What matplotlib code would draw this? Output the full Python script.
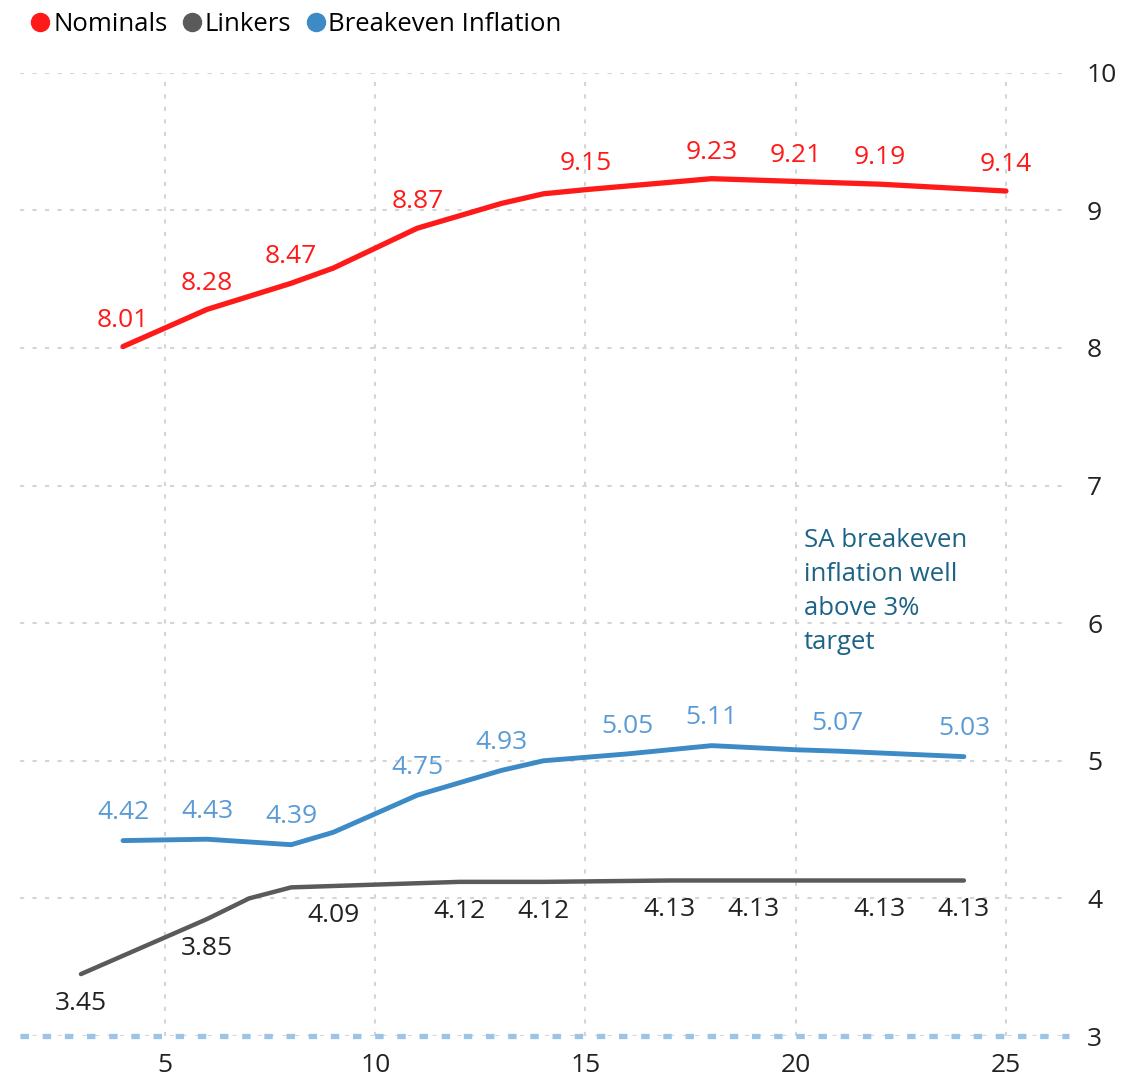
import matplotlib.pyplot as plt
from matplotlib.lines import Line2D

# --- data (maturity in years, yield in %) ---
nom_x = [4, 6, 8, 9, 11, 13, 14, 15, 18, 20, 22, 25]
nom_y = [8.01, 8.28, 8.47, 8.58, 8.87, 9.05, 9.12, 9.15, 9.23, 9.21, 9.19, 9.14]
nom_lab = [True, True, True, False, True, False, False, True, True, True, True, True]

link_x = [3, 6, 7, 8, 9, 12, 14, 17, 19, 22, 24]
link_y = [3.45, 3.85, 4.00, 4.08, 4.09, 4.12, 4.12, 4.13, 4.13, 4.13, 4.13]
link_lab = [True, True, False, False, True, True, True, True, True, True, True]

be_x = [4, 6, 8, 9, 11, 13, 14, 16, 18, 20, 21, 24]
be_y = [4.42, 4.43, 4.39, 4.48, 4.75, 4.93, 5.00, 5.05, 5.11, 5.08, 5.07, 5.03]
be_lab = [True, True, True, False, True, True, False, True, True, False, True, True]

target = 3
x_ticks = [5, 10, 15, 20, 25]
y_ticks = [3, 4, 5, 6, 7, 8, 9, 10]
note = "SA breakeven\ninflation well\nabove 3%\ntarget"

RED = "#FF1A1A"
GREY = "#5A5A5A"
BLUE = "#3C8AC6"
BLUE_LAB = "#5B9BD5"
NOTE_C = "#1D6386"

plt.rcParams['font.family'] = ['Open Sans', 'DejaVu Sans']

fig = plt.figure(figsize=(11.41, 10.74), dpi=100)
ax = fig.add_axes([20 / 1141, 1 - 1036 / 1074, (1069 - 20) / 1141, (1036 - 72.7) / 1074])

ax.plot(nom_x, nom_y, color=RED, lw=3.8, solid_capstyle='round', zorder=3)
ax.plot(link_x, link_y, color=GREY, lw=3.2, solid_capstyle='round', zorder=3)
ax.plot(be_x, be_y, color=BLUE, lw=3.5, solid_capstyle='round', zorder=3)
ax.axhline(target, color="#9DC3E6", lw=3.8, ls=(0, (1.6, 2.6)), zorder=2, clip_on=False)

fs = 19
for xs, ys, labs, col, dy in [(nom_x, nom_y, nom_lab, RED, 19),
                                (be_x, be_y, be_lab, BLUE_LAB, 20),
                                (link_x, link_y, link_lab, "#222222", -21)]:
    for x, y, show in zip(xs, ys, labs):
        if show:
            ax.annotate(f"{y:.2f}", (x, y), xytext=(0, dy), textcoords='offset points',
                        ha='center', va='center', color=col, fontsize=fs)

ax.text(20.2, 6.69, note, color=NOTE_C, fontsize=18.5, ha='left', va='top', linespacing=1.47)

ax.set_xlim(1.55, 26.5)
ax.set_ylim(3, 10)
ax.set_xticks(x_ticks)
ax.set_yticks(y_ticks)
ax.yaxis.tick_right()
ax.tick_params(axis='both', length=0, labelsize=19, colors="#222222")
ax.tick_params(axis='x', pad=12)
ax.tick_params(axis='y', pad=13)
for s in ax.spines.values():
    s.set_visible(False)
ax.grid(True, color="#D5D5D5", lw=1.5, ls=(0, (2, 4)))
ax.set_axisbelow(True)

handles = [Line2D([], [], ls='none', marker='o', ms=13, color=c) for c in (RED, GREY, BLUE)]
fig.legend(handles, ["Nominals", "Linkers", "Breakeven Inflation"], loc='upper left',
           bbox_to_anchor=(0.006, 1.01), ncol=3, frameon=False, fontsize=18.5,
           handlelength=0.8, handletextpad=0.1, columnspacing=0.55)

fig.savefig("out.png", dpi=100)
